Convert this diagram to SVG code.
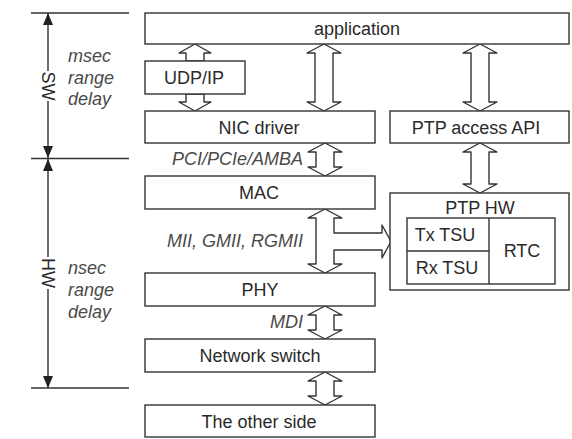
<svg xmlns="http://www.w3.org/2000/svg" width="572" height="439" viewBox="0 0 572 439">
  <style>
    .box { fill: #ffffff; stroke: #333333; stroke-width: 1.4; }
    .lbl { font-family: "Liberation Sans", Arial, sans-serif; font-size: 18px; fill: #2a2a2a; text-anchor: middle; }
    .it { font-family: "Liberation Sans", Arial, sans-serif; font-size: 18px; font-style: italic; fill: #4a4a4a; }
    .end { text-anchor: end; }
    .dim { stroke: #333333; stroke-width: 1.4; fill: none; }
    .barr { fill: #ffffff; stroke: #333333; stroke-width: 1.4; stroke-linejoin: round; }
  </style>
  <defs>
    <marker id="tip" viewBox="0 0 12 10" refX="12" refY="5" markerWidth="12" markerHeight="10" markerUnits="userSpaceOnUse" orient="auto">
      <path d="M0,0 L12,5 L0,10 Z" fill="#222222"/>
    </marker>
  </defs>
  <rect width="572" height="439" fill="#ffffff"/>

  <!-- delay range scale on the left -->
  <g id="scale">
    <line class="dim" x1="31" y1="13" x2="129" y2="13"/>
    <line class="dim" x1="31" y1="158.5" x2="129" y2="158.5"/>
    <line class="dim" x1="31" y1="388" x2="129" y2="388"/>
    <line class="dim" x1="48" y1="71" x2="48" y2="13" marker-end="url(#tip)"/>
    <line class="dim" x1="48" y1="101" x2="48" y2="158" marker-end="url(#tip)"/>
    <line class="dim" x1="48" y1="257" x2="48" y2="159" marker-end="url(#tip)"/>
    <line class="dim" x1="48" y1="289" x2="48" y2="388" marker-end="url(#tip)"/>
    <text class="lbl" transform="translate(48,86) rotate(90)" dy="6.5">SW</text>
    <text class="lbl" transform="translate(48,273) rotate(90)" dy="6.5">HW</text>
    <text class="it" x="68" y="62">msec</text>
    <text class="it" x="68" y="83.5">range</text>
    <text class="it" x="68" y="105">delay</text>
    <text class="it" x="68" y="274">nsec</text>
    <text class="it" x="68" y="296">range</text>
    <text class="it" x="68" y="318">delay</text>
  </g>

  <!-- connectors: hollow block arrows -->
  <g id="connectors">
    <!-- application <-> UDP/IP -->
    <path class="barr" d="M195,44 L211,53 L204,53 L204,61 L186,61 L186,53 L179,53 Z"/>
    <!-- UDP/IP <-> NIC driver -->
    <path class="barr" d="M195,111 L211,102 L204,102 L204,94 L186,94 L186,102 L179,102 Z"/>
    <!-- application <-> NIC driver -->
    <path class="barr" d="M324,44 L341,53 L333,53 L333,102 L341,102 L324,111 L307,102 L315,102 L315,53 L307,53 Z"/>
    <!-- application <-> PTP access API -->
    <path class="barr" d="M480,44 L497,53 L489,53 L489,102 L497,102 L480,111 L463,102 L471,102 L471,53 L463,53 Z"/>
    <!-- PTP access API <-> PTP HW -->
    <path class="barr" d="M480,143 L497,152 L489,152 L489,184 L497,184 L480,193 L463,184 L471,184 L471,152 L463,152 Z"/>
    <!-- NIC driver <-> MAC -->
    <path class="barr" d="M325,143 L342,152 L334,152 L334,167 L342,167 L325,176 L308,167 L316,167 L316,152 L308,152 Z"/>
    <!-- MAC <-> PHY with branch to PTP HW -->
    <path class="barr" d="M325,209 L342,218 L334,218 L334,233 L382,233 L382,225 L391,241.5 L382,258 L382,250 L334,250 L334,264 L342,264 L325,273 L308,264 L316,264 L316,218 L308,218 Z"/>
    <!-- PHY <-> Network switch -->
    <path class="barr" d="M325,306 L342,315 L334,315 L334,330 L342,330 L325,339 L308,330 L316,330 L316,315 L308,315 Z"/>
    <!-- Network switch <-> The other side -->
    <path class="barr" d="M325,372 L342,381 L334,381 L334,396 L342,396 L325,405 L308,396 L316,396 L316,381 L308,381 Z"/>
    <text class="it end" x="303" y="165">PCI/PCIe/AMBA</text>
    <text class="it end" x="303" y="247">MII, GMII, RGMII</text>
    <text class="it end" x="303" y="328">MDI</text>
  </g>

  <g id="application">
    <rect class="box" x="145" y="13" width="424" height="31"/>
    <text class="lbl" x="357" y="34.5">application</text>
  </g>
  <g id="udp-ip">
    <rect class="box" x="145" y="61" width="100" height="33"/>
    <text class="lbl" x="194" y="84">UDP/IP</text>
  </g>
  <g id="nic-driver">
    <rect class="box" x="145" y="111" width="230" height="32"/>
    <text class="lbl" x="259" y="133.5">NIC driver</text>
  </g>
  <g id="ptp-access-api">
    <rect class="box" x="390" y="111" width="179" height="32"/>
    <text class="lbl" x="476" y="133.5">PTP access API</text>
  </g>
  <g id="mac">
    <rect class="box" x="145" y="176" width="230" height="33"/>
    <text class="lbl" x="259" y="199">MAC</text>
  </g>
  <g id="ptp-hw">
    <rect class="box" x="390" y="193" width="179" height="97"/>
    <text class="lbl" x="480" y="213.5">PTP HW</text>
    <rect class="box" x="407" y="218" width="148" height="66"/>
    <line class="dim" x1="489" y1="218" x2="489" y2="284"/>
    <line class="dim" x1="407" y1="251" x2="489" y2="251"/>
    <text class="lbl" x="445" y="241">Tx TSU</text>
    <text class="lbl" x="447" y="273.5">Rx TSU</text>
    <text class="lbl" x="522" y="257">RTC</text>
  </g>
  <g id="phy">
    <rect class="box" x="145" y="273" width="230" height="33"/>
    <text class="lbl" x="260" y="296">PHY</text>
  </g>
  <g id="network-switch">
    <rect class="box" x="145" y="339" width="230" height="33"/>
    <text class="lbl" x="260" y="362">Network switch</text>
  </g>
  <g id="other-side">
    <rect class="box" x="145" y="405" width="230" height="32"/>
    <text class="lbl" x="259" y="427.5">The other side</text>
  </g>
</svg>
